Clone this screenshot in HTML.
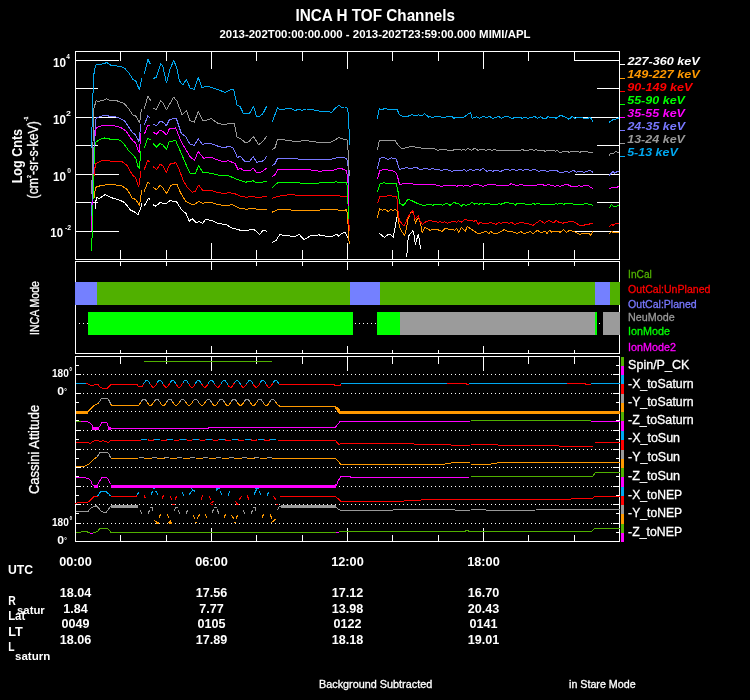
<!DOCTYPE html>
<html><head><meta charset="utf-8"><title>INCA H TOF Channels</title>
<style>html,body{margin:0;padding:0;background:#000;width:750px;height:700px;overflow:hidden}svg{display:block;will-change:transform}</style>
</head><body>
<svg width="750" height="700" viewBox="0 0 750 700" font-family='"Liberation Sans", Arial, Helvetica, sans-serif'><rect width="750" height="700" fill="#000"/><text x="295.5" y="20.8" font-size="16" fill="#fff" font-weight="bold" font-style="normal" text-anchor="start" textLength="159.5" lengthAdjust="spacingAndGlyphs" >INCA H TOF Channels</text>
<text x="219.5" y="38.2" font-size="11.5" fill="#fff" font-weight="bold" font-style="normal" text-anchor="start" textLength="311" lengthAdjust="spacingAndGlyphs" >2013-202T00:00:00.000 - 2013-202T23:59:00.000 MIMI/APL</text>
<g shape-rendering="crispEdges">
<rect x="75.5" y="51.5" width="544" height="208" fill="none" stroke="#fff" stroke-width="1"/>
<line x1="120.5" y1="51.5" x2="120.5" y2="61" stroke="#fff" stroke-width="1"/>
<line x1="120.5" y1="259.5" x2="120.5" y2="250" stroke="#fff" stroke-width="1"/>
<line x1="166.5" y1="51.5" x2="166.5" y2="61" stroke="#fff" stroke-width="1"/>
<line x1="166.5" y1="259.5" x2="166.5" y2="250" stroke="#fff" stroke-width="1"/>
<line x1="211.5" y1="51.5" x2="211.5" y2="68.5" stroke="#fff" stroke-width="1"/>
<line x1="211.5" y1="259.5" x2="211.5" y2="242.5" stroke="#fff" stroke-width="1"/>
<line x1="256.5" y1="51.5" x2="256.5" y2="61" stroke="#fff" stroke-width="1"/>
<line x1="256.5" y1="259.5" x2="256.5" y2="250" stroke="#fff" stroke-width="1"/>
<line x1="302.5" y1="51.5" x2="302.5" y2="61" stroke="#fff" stroke-width="1"/>
<line x1="302.5" y1="259.5" x2="302.5" y2="250" stroke="#fff" stroke-width="1"/>
<line x1="347.5" y1="51.5" x2="347.5" y2="68.5" stroke="#fff" stroke-width="1"/>
<line x1="347.5" y1="259.5" x2="347.5" y2="242.5" stroke="#fff" stroke-width="1"/>
<line x1="392.5" y1="51.5" x2="392.5" y2="61" stroke="#fff" stroke-width="1"/>
<line x1="392.5" y1="259.5" x2="392.5" y2="250" stroke="#fff" stroke-width="1"/>
<line x1="438.5" y1="51.5" x2="438.5" y2="61" stroke="#fff" stroke-width="1"/>
<line x1="438.5" y1="259.5" x2="438.5" y2="250" stroke="#fff" stroke-width="1"/>
<line x1="483.5" y1="51.5" x2="483.5" y2="68.5" stroke="#fff" stroke-width="1"/>
<line x1="483.5" y1="259.5" x2="483.5" y2="242.5" stroke="#fff" stroke-width="1"/>
<line x1="528.5" y1="51.5" x2="528.5" y2="61" stroke="#fff" stroke-width="1"/>
<line x1="528.5" y1="259.5" x2="528.5" y2="250" stroke="#fff" stroke-width="1"/>
<line x1="574.5" y1="51.5" x2="574.5" y2="61" stroke="#fff" stroke-width="1"/>
<line x1="574.5" y1="259.5" x2="574.5" y2="250" stroke="#fff" stroke-width="1"/>
<line x1="75.5" y1="60.5" x2="119" y2="60.5" stroke="#fff" stroke-width="1"/>
<line x1="619.5" y1="60.5" x2="574.5" y2="60.5" stroke="#fff" stroke-width="1"/>
<line x1="75.5" y1="117.5" x2="119" y2="117.5" stroke="#fff" stroke-width="1"/>
<line x1="619.5" y1="117.5" x2="574.5" y2="117.5" stroke="#fff" stroke-width="1"/>
<line x1="75.5" y1="174.5" x2="119" y2="174.5" stroke="#fff" stroke-width="1"/>
<line x1="619.5" y1="174.5" x2="574.5" y2="174.5" stroke="#fff" stroke-width="1"/>
<line x1="75.5" y1="231.5" x2="119" y2="231.5" stroke="#fff" stroke-width="1"/>
<line x1="619.5" y1="231.5" x2="574.5" y2="231.5" stroke="#fff" stroke-width="1"/>
<line x1="75.5" y1="88.5" x2="97.5" y2="88.5" stroke="#fff" stroke-width="1"/>
<line x1="619.5" y1="88.5" x2="597" y2="88.5" stroke="#fff" stroke-width="1"/>
<line x1="75.5" y1="145.5" x2="97.5" y2="145.5" stroke="#fff" stroke-width="1"/>
<line x1="619.5" y1="145.5" x2="597" y2="145.5" stroke="#fff" stroke-width="1"/>
<line x1="75.5" y1="202.5" x2="97.5" y2="202.5" stroke="#fff" stroke-width="1"/>
<line x1="619.5" y1="202.5" x2="597" y2="202.5" stroke="#fff" stroke-width="1"/>
<line x1="619.5" y1="64.5" x2="625" y2="64.5" stroke="#FFFFFF" stroke-width="1"/>
<line x1="619.5" y1="78.5" x2="625" y2="78.5" stroke="#FF9900" stroke-width="1"/>
<line x1="619.5" y1="91.5" x2="625" y2="91.5" stroke="#FF0000" stroke-width="1"/>
<line x1="619.5" y1="104.5" x2="625" y2="104.5" stroke="#00FF00" stroke-width="1"/>
<line x1="619.5" y1="117.5" x2="625" y2="117.5" stroke="#FF00FF" stroke-width="1"/>
<line x1="619.5" y1="130.5" x2="625" y2="130.5" stroke="#7878FF" stroke-width="1"/>
<line x1="619.5" y1="143.5" x2="625" y2="143.5" stroke="#999999" stroke-width="1"/>
<line x1="619.5" y1="156.5" x2="625" y2="156.5" stroke="#00A8F0" stroke-width="1"/>
</g>
<g shape-rendering="crispEdges" stroke-linejoin="round">
<polyline points="95,209.5 95.5,203 96.7,197.2 99,198.7 105,194.7 112.5,198 120,200.2 124.5,202.5 130.5,210 135,212.2 138,215.2 141,207 141.7,203.2" stroke="#FFFFFF" stroke-width="1" fill="none" />
<polyline points="144,206.2 148.5,198.3 150,199.5" stroke="#FFFFFF" stroke-width="1" fill="none" />
<polyline points="153,204.7 156,206.2 160,202.5 166,204 169.7,200.7 176.5,201.7 181.7,210 186.2,213.7 189.2,221.2 192.2,218.7 196,222.5 199,221.7 202.7,223.5 205.7,219.3 211.7,220.5 218.5,223.5 226,224.5 232,228 243.2,231 247,230.2 254,229.5 259.8,234.4 263.1,230.3 266.7,231.1" stroke="#FFFFFF" stroke-width="1" fill="none" />
<polyline points="272.1,242.6 276.2,240.2 279.5,234.9 286,235.2 294.3,236.9 299.2,234.4 304.1,239.8 310.7,235.6 318.9,234.9 330.4,236.9 337,234.4 338.1,236.2 342.1,233.4 345.2,232.3 347.6,237.5" stroke="#FFFFFF" stroke-width="1" fill="none" />
<polyline points="379,233.2 384.6,237.5 388,234.4 390.6,234.7 393.3,237.3 394.8,229.1 395.7,223.1 397.2,216.5" stroke="#FFFFFF" stroke-width="1" fill="none" />
<polyline points="406.4,257.4 407.3,251.4 407.7,242 408.6,236 412.8,230.8 413.7,232.6 415.4,244.6 416.7,239.4 418.4,234.3 420.6,248.8" stroke="#FFFFFF" stroke-width="1" fill="none" />
<polyline points="94.6,198 95.2,188.2 96.7,186.7 102.7,185.2 111,184.5 121.5,185.5 127.5,189.7 132,198 135.7,199.5 139.5,205.5 141.7,190.5" stroke="#FF9900" stroke-width="1" fill="none" />
<polyline points="144,192 147.7,182.2 150,183.7" stroke="#FF9900" stroke-width="1" fill="none" />
<polyline points="153,187.5 156.7,189.7 160,185.2 163,188.2 166.5,193.5 170.5,186 173.5,184.2 177.2,184.8 180.2,192 185.5,201 191.5,204.3 195.2,204 198.7,201.3 202,203.2 211,202.5 217,204.3 226,205.8 232,204.7 239.5,208.2 246.2,209.2 253.2,208.6 260,209.5 266.7,209.3" stroke="#FF9900" stroke-width="1" fill="none" />
<polyline points="272.1,212.2 277.8,209.8 310.7,210.3 335,209.5 341.3,210.7 346.8,209.8 347.6,217.3 349.2,244" stroke="#FF9900" stroke-width="1" fill="none" />
<polyline points="377.3,218.4 379.4,209 382.5,210.2 385,209.5 388.4,211.6 390.6,209.3 392.7,210.5 395.3,209.3 397.2,211.1 398.3,220.6 399.6,227.4 401.7,231.7 404.7,235.1 406.4,228.3 408.1,218.9 410.3,213.7 412,211.1 413.7,213.7 415.4,223.1 416.7,219.7 418.8,217.6 420.6,224.4 422.3,233 424.8,227.2 430,230.3 432.7,229.4 436,229 439.3,230.3 442,231.4 445.3,228.3 449.3,229.4 451.3,229.4 454.7,230.3 456.7,228.3 458.7,232.3 461.3,227.3 465.3,231.4 467.3,226.3 470,228.3 474,231 477.3,233.4 480.7,233 483.3,232.3 486.7,231.4 488.7,233.7 490.7,231.4 494,233.7 498,233 500.7,231.7 504,229.7 506.7,231 511.3,231 513.3,232.3 517.3,233.4 520.7,231.4 523.3,233.4 525,233.7 527.7,232.3 531,231.7 533,234.3 534.3,232.3 537.7,230.3 541,233 545,231 547,233.4 549.7,230.3 551.7,232.1 554.3,231.3 557,231 560.3,232.3 563.7,229.4 566.3,232.3 569.7,230.3 573,231.3 575.7,232.1 579.7,234.3 582.3,233.7 583.7,233 587.7,233.7 589,233.7 590.6,235.3 592.3,232.1 593,231" stroke="#FF9900" stroke-width="1" fill="none" />
<polyline points="609.3,233.7 611.4,231.3 613,232.3 619,232.1" stroke="#FF9900" stroke-width="1" fill="none" />
<polyline points="94,176 94.5,169.5 96,163.5 102.7,160.2 111.7,161.2 121.5,161.2 126.7,165 132.7,175.5 135.7,177.7 138.7,186.7 141,171" stroke="#FF0000" stroke-width="1" fill="none" />
<polyline points="144,170.2 147.7,160.5 150,162" stroke="#FF0000" stroke-width="1" fill="none" />
<polyline points="153,166.5 156.7,169.5 160,164.2 163,165.7 166.3,172.5 169.7,164.2 175.7,162.7 178.7,168 183.2,180.7 187,186.7 192.2,192.3 195.2,191.2 198.7,185.2 202.7,190.5 208,190.2 211.7,190.5 217.7,192.5 224.5,193.5 229,192.5 235,193.8 241,196.5 246.2,197.2 251.6,196.6 258.1,197.5 266.7,196.3" stroke="#FF0000" stroke-width="1" fill="none" />
<polyline points="272.1,198.3 277.8,196.3 290.2,194.5 302.5,195.8 327.1,195.5 335,195.6 341.3,196.1 347.6,196.6 348.4,204.7 349.2,231" stroke="#FF0000" stroke-width="1" fill="none" />
<polyline points="377.3,203.4 378.6,200.4 379.8,196.9 390,195.6 396.3,196.9 397.4,200 398.3,215.9 400,221.4 403.8,226.1 406,222.3 407.7,217.1 412.8,210.3 415,218.9 418.4,215.4 419.7,220.6 422.3,224.4 425.7,221.9 430,220.3 432.7,221.3 436,221.7 438,222.3 440,221.7 442,222.6 444.7,221.7 447.3,223.4 450,222.3 454.7,221.3 456.7,222.3 458.7,220.7 461.3,222.3 464.7,219.4 468.7,220.3 471.3,220.3 474,221.3 476,220.3 478,224.3 480,222.6 483.3,223.4 488.7,223.4 490,222.3 493.3,223.4 496,224.3 499.3,222.3 500.7,223.4 503.3,222.3 506.7,222.3 508.7,223.4 511.3,222.3 514.7,224.3 518,223.4 522,222.3 525,223.3 529,223.9 533,225.4 536.3,223 540.3,220.3 544.3,223.3 549,220.3 552.3,222.3 554.3,222.3 556.3,220.3 559,222.3 563,223.3 565,222.3 567.7,222.3 569,221.4 572.3,221.4 575,222.3 579.7,225.4 583.7,225.4 585.7,224.3 589,224.3 590.3,223.3 593,223.3" stroke="#FF0000" stroke-width="1" fill="none" />
<polyline points="609.3,226.6 611.7,224.3 613,225.4 615.7,223.3 619,223.3" stroke="#FF0000" stroke-width="1" fill="none" />
<polyline points="91.7,250.6 93.5,180 94.6,146 96.1,142.1 97.9,140.7 102.1,138.6 105,137.9 110.7,139.3 115,139.6 117.9,139.3 120.7,140.7 124.3,144.3 128.6,150.7 132.7,154.5 135.7,158.2 138,166.5 139.5,168 140.7,151.5" stroke="#00FF00" stroke-width="1" fill="none" />
<polyline points="144.3,147.9 147.9,137.9 150.4,140" stroke="#00FF00" stroke-width="1" fill="none" />
<polyline points="153.3,143.6 156.4,147.1 160,143.6 162.9,145 166.4,149.3 169.3,141.4 175.7,140.7 181.4,153.6 186.2,165 190,173.2 195.2,174 198.7,165.3 202.7,172.5 211,173.2 220,175.5 228.2,175.5 235,178.5 241,180.7 245.5,182.2 253.2,180.7 256.5,183 266.7,181.4" stroke="#00FF00" stroke-width="1" fill="none" />
<polyline points="272.1,187.6 277.8,182.7 294.3,182.4 309,184 318.9,183 337,181.9 340.5,183 346.8,182.4 347.6,190.6 348.5,219" stroke="#00FF00" stroke-width="1" fill="none" />
<polyline points="377.5,192.2 379.8,184 383.7,182.7 388.5,184 396.3,183.5 397.9,190.6 399.5,203.2 403.4,205.5 408.1,199.2 412,200.8 416.8,203.2 423,205.5 429.3,204.4 430,204.3 432.7,205.3 435.3,204.3 440.7,204.3 442.7,205.3 446.7,203.3 450,205.3 454,202.3 456,203.3 458,203.3 461.3,206.3 463.3,204.3 466,205.3 469.3,204.3 472.4,202.3 474.7,204.3 476.7,203.3 478.7,204.3 481.3,203.3 483.3,204.3 487.3,203.3 491.3,204.3 497.3,204.3 498.7,203.3 500.7,204.3 503.3,203.3 507.3,202.3 510,203.3 513.3,203.3 515.3,205.3 517.3,203.3 524.7,203.3 525,204.3 531.7,204.3 533,203.3 535,204.3 537.7,203.3 541,204.3 554.3,204.3 555.9,203.3 557.7,204.3 559.7,203.3 561.7,203.3 563.7,204.3 566.3,203.3 572.3,203.3 573.7,204.3 583.7,204.3 585,203.3 587,203.3 588.3,204.3 590.3,204.3 593,205.7" stroke="#00FF00" stroke-width="1" fill="none" />
<polyline points="609.3,208.3 611.4,204.3 613,206.3 616.3,206.3 619,205.3" stroke="#00FF00" stroke-width="1" fill="none" />
<polyline points="91.2,231 93.7,152 94.5,140 96.1,127.9 97.9,127.1 102.1,125.7 106.4,125.3 112.1,125.7 117.9,126.4 121.4,127.9 125.7,130.7 130,137.1 132.9,140.7 135.7,142.9 137.9,150 139.3,152.1 141,132.9" stroke="#FF00FF" stroke-width="1" fill="none" />
<polyline points="144.3,134.3 147.9,125 150.4,126.4" stroke="#FF00FF" stroke-width="1" fill="none" />
<polyline points="153.3,132.1 156.4,134.3 160,130 162.9,131.4 166.4,135 169.3,129 175.7,127.9 181.4,142.1 186.2,150 190,156.7 194.5,160.5 198.2,151.5 203.5,158.2 211,157.2 217,159.7 224.5,162 228.2,160.5 235,163.5 238,169.5 240.2,168 244,171 249.9,170.9 253.2,168.2 256.5,172.5 261.4,172 266.7,168.2" stroke="#FF00FF" stroke-width="1" fill="none" />
<polyline points="272.1,176.5 275.4,174.5 277.8,169.6 287.7,169.6 294.3,169.9 310.7,170 319.7,171.2 333.7,170 335,169.4 338.6,168.7 341.3,168.6 346,170.2 347.9,178 348.6,205.8" stroke="#FF00FF" stroke-width="1" fill="none" />
<polyline points="377.5,179.3 379.8,170.5 385.3,169.4 394.7,171.4 397.1,174.9 399.5,184.3 405.8,183.5 416.8,184.3 430,184.6 434.7,184.6 438,185.7 442,186.3 444.7,185.4 454.7,185.4 456.7,186.3 460.7,185 463.3,186.1 467.3,185 470,186.3 474,184.6 478,184.6 480.7,185.7 483.3,186.3 488.7,184.6 495.3,184.6 496.7,185.4 508.7,185.4 511.3,183.4 513.3,184.6 516.7,185.4 522,184.6 524,185.4 525,185.4 536.3,185.4 538.3,184.3 546.3,185.4 549,184.3 551.7,185.7 555.7,186.3 557.7,185.4 559.7,186.3 563,185.4 567,184.3 571,186.3 577,186.3 579,185.4 581,186.3 587.7,185.4 590.3,187 593,188.6" stroke="#FF00FF" stroke-width="1" fill="none" />
<polyline points="609.3,188.6 613,187.3 617,187.3 619,186.3" stroke="#FF00FF" stroke-width="1" fill="none" />
<polyline points="91.5,216 93.5,160 94.5,135 96.1,117.9 98.6,117.1 101.4,116.1 105.7,115.7 112.1,116.4 116.4,117.1 120.7,118.6 125,121.4 129.3,127.9 132.1,132.1 135,134.3 137.9,139.3 139,141.4 141,123.6" stroke="#7878FF" stroke-width="1" fill="none" />
<polyline points="144.3,125 147.9,115.7 150.4,118.6" stroke="#7878FF" stroke-width="1" fill="none" />
<polyline points="153.3,124.3 156.4,125.7 160,121.4 162.9,122.1 166.4,125.7 169.3,120 172.9,118.6 176.4,118.6 181.4,133.6 185.7,136.4 190,144.3 194.3,145.3 198.3,138.6 202.1,144.3 207.1,143.6 211.4,143.9 218.6,146.4 224.3,147.9 228.6,146.1 232.9,147.9 235.7,153.6 237.2,157.5 240.2,156.3 245.5,162 249.9,161.3 253.2,156.4 256.5,162.2 261.4,161.7 264.7,159.7 266.7,156.1" stroke="#7878FF" stroke-width="1" fill="none" />
<polyline points="272.1,165.5 274.9,163.8 277.5,158.4 286,158.9 294.3,158.9 310.7,159.4 327.1,160 335,158.4 337,157.2 341.3,157.3 346.8,158.4 348.4,168.6 349,185" stroke="#7878FF" stroke-width="1" fill="none" />
<polyline points="377.5,168.6 379.8,158.4 383.7,157.3 387.7,159.5 391.6,157.9 396.3,159.2 399.5,169.4 405.8,167.8 412,168.3 416,167 419.9,169.4 426.2,168.6 430,169.7 432.7,168.3 436,169.9 438.7,169.4 440.7,170.3 446.7,169.4 452,171.3 456,170.3 462,170.3 464,169.4 466.7,171.3 470,169.7 474,170.3 477.3,169.4 480,170.3 483.3,168.3 486.7,171.3 490,170.3 492.7,171.3 495.3,170.3 500.7,171.3 506,169.4 510,170.3 512.7,169.4 516.7,170.3 520,169.4 523.3,170.3 525,169.4 530.3,170.3 535,169.4 538.3,171.4 543.7,170.3 547.7,171.4 551,170.3 556.3,170.3 559.7,172.3 563.7,172.3 565,171.4 569.7,172.3 573.7,170.3 576.3,172.3 579,171.4 581,171.4 583.7,172.3 590.3,170.3 593,172.3" stroke="#7878FF" stroke-width="1" fill="none" />
<polyline points="609.3,175.4 613,171.4 615,173.3 617,171.4 619,171" stroke="#7878FF" stroke-width="1" fill="none" />
<polyline points="91.3,194 92.5,170 93.6,109.3 96.1,100.7 97.9,101.4 103.6,100.4 106.4,98.6 110,100.4 115.7,100.4 120.7,102.1 124.3,103.6 128.6,108.6 132.9,115 136.4,116.4 139.6,122.9 141.4,109.3" stroke="#999999" stroke-width="1" fill="none" />
<polyline points="144.3,108.6 147.9,96.4 150.7,100.4" stroke="#999999" stroke-width="1" fill="none" />
<polyline points="153.3,108.6 156.4,109.3 160.7,100.7 162.9,102.9 166.4,110 170,103.6 173.6,97.1 177.1,101.4 182.1,115 186.4,110.7 190,120.7 194.3,122.1 198.3,111.4 202.9,121 207.1,120 211.4,118.6 217.1,122.9 224.3,125 227.9,123.6 234.3,123.6 237.1,137.1 240.7,138.6 245.7,142.9 249.3,141.4 253.3,136.4 258.6,144.7 262.9,141.4 266.7,136.1" stroke="#999999" stroke-width="1" fill="none" />
<polyline points="272.1,149.6 275,147.6 277.6,139.6 285,140 295,141.4 306.4,140.7 316.4,142.1 330.7,142.1 335,140 338.6,137.6 341.7,138.8 347,140 348.5,155 349.2,176" stroke="#999999" stroke-width="1" fill="none" />
<polyline points="377.3,150.1 379.2,140.7 395,140.3 398.7,146 401.7,149 411.5,146.3 419,147.8 428,148.7 430,148.3 434,148.3 437.3,150.3 440.7,149.7 444.7,149.3 448,150.3 452.7,150.3 455.3,149.3 459.3,149.3 461.3,150.3 464,149.3 465.3,150.3 468,148.3 471.3,150.3 474.7,148.3 478,150.3 480.7,149.3 484,149.7 486,150.3 488.7,149.3 492,150.3 495.3,149.3 496.7,150.3 520.7,150.3 522,149.3 524,150.3 525,150.3 527.7,150.3 531,149.4 534.3,150.3 535.7,149.4 538.3,151 543.7,150.3 545,151.4 547,150.3 553.7,150.3 555.7,151.4 557,150.3 559,152.3 567.7,151.4 569,152.3 572.3,151.4 577.7,151.4 579.7,152.3 582.3,151.4 585.7,151.4 589,152.3 593,152.3" stroke="#999999" stroke-width="1" fill="none" />
<polyline points="609,155.7 611,153 613,153.7 615.7,151.4 617.7,152.3 619,152.3" stroke="#999999" stroke-width="1" fill="none" />
<polyline points="91.4,147.9 93.3,83.6 94.3,69.3 96.4,64.3 103.6,63.9 106.7,62.4 111.9,66.1 114.3,65.3 117.9,66.4 121.4,66.7 125,68.6 129.3,73.6 132.9,79.3 136.1,81.4 139.3,90 141.9,77.9" stroke="#00A8F0" stroke-width="1" fill="none" />
<polyline points="144.3,73.6 147.9,59.3 150.4,64.3" stroke="#00A8F0" stroke-width="1" fill="none" />
<polyline points="153.3,78.6 156.4,77.1 160.7,63.6 162.9,66.4 166.4,82.9 170,69.3 173.6,60.7 176.4,66.4 179.3,80.7 182.9,85 186.4,79.3 190,87.9 194.3,89.3 198.3,77.6 202.1,87.9 205.7,86.4 209.3,86.7 217.1,89.3 225,92.4 230,90 233.6,89.3 237.1,105 240,106.4 243.6,113.9 247.1,113.6 250,112.9 253.6,106.4 256.4,116.1 259.3,116.4 262.9,113.6 266.7,106.1" stroke="#00A8F0" stroke-width="1" fill="none" />
<polyline points="272.1,122.1 277.6,107.6 279.3,109.3 285,109 290.7,108.3 295,110.4 299.3,109.3 302.1,110.4 306.4,109 312.1,109.3 315,110.4 322.1,111.4 327.9,111 331.4,112.9 333.6,110 338.6,105.3 341.4,107.1 344.7,107 347.7,108.5 348.5,117.5 349.7,144.5" stroke="#00A8F0" stroke-width="1" fill="none" />
<polyline points="377.3,119.3 379.2,108.8 380,109.7 386,108.5 389,110 397.2,109.7 399.5,114.8 401.7,116 408.5,116 412.2,114.5 415.2,116 418.2,114.8 421.7,116 424.7,113.7 428.7,117.2 430,116.3 432,117.7 435.3,116.7 440.7,116.7 442,117.7 448,116.7 452,116.7 454,118.3 455.3,117.4 463.3,117.4 466,115.7 470.7,112.3 472,118.3 474.7,117.4 476.7,116.7 479.3,118.3 482.7,116.7 484.7,116.7 486.7,117.7 489.3,116.3 492.7,118.3 495.3,117.7 498.7,116.3 501.3,118.3 504.7,116.7 508,116.3 510,117.7 512.7,118.3 515.3,117.4 520.7,117.4 522,118.3 524.7,117.4 525,117.4 528.3,118.3 531.7,117.4 535,116.6 537.7,118.3 540.3,116.6 543,118.3 546.3,118.3 547.7,116.6 550.3,117.4 553.7,117.4 556.3,118.3 558.3,116.6 561,115.3 563.7,116.6 566.3,117.4 569,119.3 572.3,116.3 575,118.3 577.7,117.4 581,117.4 583.7,118.3 587.7,118.3 590.3,117.4 591.7,119.3 593,121.7" stroke="#00A8F0" stroke-width="1" fill="none" />
<polyline points="609,122.3 613,119.7 617,118.7 619,117.7" stroke="#00A8F0" stroke-width="1" fill="none" />
</g>
<text x="627.45" y="64.8" font-size="11.5" fill="#FFFFFF" font-weight="bold" font-style="italic" text-anchor="start" textLength="72.33" lengthAdjust="spacingAndGlyphs" >227-360 keV</text>
<text x="627.2" y="77.82" font-size="11.5" fill="#FF9900" font-weight="bold" font-style="italic" text-anchor="start" textLength="72.58" lengthAdjust="spacingAndGlyphs" >149-227 keV</text>
<text x="627.2" y="90.84" font-size="11.5" fill="#FF0000" font-weight="bold" font-style="italic" text-anchor="start" textLength="65.37" lengthAdjust="spacingAndGlyphs" >90-149 keV</text>
<text x="627.2" y="103.86" font-size="11.5" fill="#00FF00" font-weight="bold" font-style="italic" text-anchor="start" textLength="57.76" lengthAdjust="spacingAndGlyphs" >55-90 keV</text>
<text x="627.2" y="116.88" font-size="11.5" fill="#FF00FF" font-weight="bold" font-style="italic" text-anchor="start" textLength="57.76" lengthAdjust="spacingAndGlyphs" >35-55 keV</text>
<text x="627.45" y="129.9" font-size="11.5" fill="#7878FF" font-weight="bold" font-style="italic" text-anchor="start" textLength="57.52" lengthAdjust="spacingAndGlyphs" >24-35 keV</text>
<text x="627.2" y="142.92" font-size="11.5" fill="#999999" font-weight="bold" font-style="italic" text-anchor="start" textLength="57.76" lengthAdjust="spacingAndGlyphs" >13-24 keV</text>
<text x="627.2" y="155.94" font-size="11.5" fill="#00A8F0" font-weight="bold" font-style="italic" text-anchor="start" textLength="50.61" lengthAdjust="spacingAndGlyphs" >5-13 keV</text>
<text x="53.1" y="66.8" font-size="12.3" fill="#fff" font-weight="bold" font-style="normal" text-anchor="start" textLength="13.03" lengthAdjust="spacingAndGlyphs" >10</text>
<text x="66.3" y="59.2" font-size="6.5" fill="#fff" font-weight="bold" font-style="normal" text-anchor="start" textLength="3.61" lengthAdjust="spacingAndGlyphs" >4</text>
<text x="53.1" y="123.8" font-size="12.3" fill="#fff" font-weight="bold" font-style="normal" text-anchor="start" textLength="13.03" lengthAdjust="spacingAndGlyphs" >10</text>
<text x="66" y="116.2" font-size="6.5" fill="#fff" font-weight="bold" font-style="normal" text-anchor="start" textLength="4.91" lengthAdjust="spacingAndGlyphs" >2</text>
<text x="53.1" y="180.6" font-size="12.3" fill="#fff" font-weight="bold" font-style="normal" text-anchor="start" textLength="13.03" lengthAdjust="spacingAndGlyphs" >10</text>
<text x="67.3" y="173" font-size="6.5" fill="#fff" font-weight="bold" font-style="normal" text-anchor="start" textLength="3.71" lengthAdjust="spacingAndGlyphs" >0</text>
<text x="50.3" y="237.2" font-size="12.3" fill="#fff" font-weight="bold" font-style="normal" text-anchor="start" textLength="12.73" lengthAdjust="spacingAndGlyphs" >10</text>
<text x="64.9" y="229.6" font-size="6.5" fill="#fff" font-weight="bold" font-style="normal" text-anchor="start" textLength="6.09" lengthAdjust="spacingAndGlyphs" >-2</text>
<text transform="translate(21.9,183.3) rotate(-90) scale(0.8096,1)" x="-0" y="0" font-size="15.5" font-weight="bold" fill="#fff">Log Cnts</text>
<text transform="translate(37.6,198.9) rotate(-90) scale(0.86,1)" x="0.6" y="0" font-size="14.3" fill="#fff" stroke="#fff" stroke-width="0.3">(cm<tspan font-size="6" dy="-7">2</tspan><tspan dy="7">-sr-s-keV)</tspan><tspan font-size="6" dy="-9.5">-1</tspan></text>
<g shape-rendering="crispEdges">
<line x1="79" y1="323.5" x2="612" y2="323.5" stroke="#fff" stroke-width="1" stroke-dasharray="1 3"/>
<rect x="75.5" y="261.5" width="544" height="92" fill="none" stroke="#fff" stroke-width="1"/>
<rect x="75" y="282" width="22" height="23" fill="#7480FF"/>
<rect x="97" y="282" width="253" height="23" fill="#50B000"/>
<rect x="350" y="282" width="30" height="23" fill="#7480FF"/>
<rect x="380" y="282" width="215" height="23" fill="#50B000"/>
<rect x="595" y="282" width="15" height="23" fill="#7480FF"/>
<rect x="610" y="282" width="10" height="23" fill="#50B000"/>
<rect x="88" y="312" width="265" height="23" fill="#00FF00"/>
<rect x="377" y="312" width="23" height="23" fill="#00FF00"/>
<rect x="400" y="312" width="195" height="23" fill="#9B9B9B"/>
<rect x="595" y="312" width="2" height="23" fill="#00FF00"/>
<rect x="603" y="312" width="17" height="23" fill="#9B9B9B"/>
<line x1="120.5" y1="261.5" x2="120.5" y2="265.5" stroke="#fff" stroke-width="1"/>
<line x1="120.5" y1="353.5" x2="120.5" y2="349.5" stroke="#fff" stroke-width="1"/>
<line x1="166.5" y1="261.5" x2="166.5" y2="265.5" stroke="#fff" stroke-width="1"/>
<line x1="166.5" y1="353.5" x2="166.5" y2="349.5" stroke="#fff" stroke-width="1"/>
<line x1="211.5" y1="261.5" x2="211.5" y2="269.5" stroke="#fff" stroke-width="1"/>
<line x1="211.5" y1="353.5" x2="211.5" y2="345.5" stroke="#fff" stroke-width="1"/>
<line x1="256.5" y1="261.5" x2="256.5" y2="265.5" stroke="#fff" stroke-width="1"/>
<line x1="256.5" y1="353.5" x2="256.5" y2="349.5" stroke="#fff" stroke-width="1"/>
<line x1="302.5" y1="261.5" x2="302.5" y2="265.5" stroke="#fff" stroke-width="1"/>
<line x1="302.5" y1="353.5" x2="302.5" y2="349.5" stroke="#fff" stroke-width="1"/>
<line x1="347.5" y1="261.5" x2="347.5" y2="269.5" stroke="#fff" stroke-width="1"/>
<line x1="347.5" y1="353.5" x2="347.5" y2="345.5" stroke="#fff" stroke-width="1"/>
<line x1="392.5" y1="261.5" x2="392.5" y2="265.5" stroke="#fff" stroke-width="1"/>
<line x1="392.5" y1="353.5" x2="392.5" y2="349.5" stroke="#fff" stroke-width="1"/>
<line x1="438.5" y1="261.5" x2="438.5" y2="265.5" stroke="#fff" stroke-width="1"/>
<line x1="438.5" y1="353.5" x2="438.5" y2="349.5" stroke="#fff" stroke-width="1"/>
<line x1="483.5" y1="261.5" x2="483.5" y2="269.5" stroke="#fff" stroke-width="1"/>
<line x1="483.5" y1="353.5" x2="483.5" y2="345.5" stroke="#fff" stroke-width="1"/>
<line x1="528.5" y1="261.5" x2="528.5" y2="265.5" stroke="#fff" stroke-width="1"/>
<line x1="528.5" y1="353.5" x2="528.5" y2="349.5" stroke="#fff" stroke-width="1"/>
<line x1="574.5" y1="261.5" x2="574.5" y2="265.5" stroke="#fff" stroke-width="1"/>
<line x1="574.5" y1="353.5" x2="574.5" y2="349.5" stroke="#fff" stroke-width="1"/>
</g>
<text x="628.1" y="277.9" font-size="10.8" fill="#50B000" font-weight="normal" font-style="normal" text-anchor="start" textLength="23.8" lengthAdjust="spacingAndGlyphs"  stroke="#50B000" stroke-width="0.3">InCal</text>
<text x="628.1" y="292.6" font-size="10.8" fill="#FF0000" font-weight="normal" font-style="normal" text-anchor="start" textLength="82.33" lengthAdjust="spacingAndGlyphs"  stroke="#FF0000" stroke-width="0.3">OutCal:UnPlaned</text>
<text x="628.1" y="307.6" font-size="10.8" fill="#7878FF" font-weight="normal" font-style="normal" text-anchor="start" textLength="68.59" lengthAdjust="spacingAndGlyphs"  stroke="#7878FF" stroke-width="0.3">OutCal:Planed</text>
<text x="628.1" y="320.7" font-size="10.8" fill="#999999" font-weight="normal" font-style="normal" text-anchor="start" textLength="46.61" lengthAdjust="spacingAndGlyphs"  stroke="#999999" stroke-width="0.3">NeuMode</text>
<text x="628.1" y="335.4" font-size="10.8" fill="#00FF00" font-weight="normal" font-style="normal" text-anchor="start" textLength="41.92" lengthAdjust="spacingAndGlyphs"  stroke="#00FF00" stroke-width="0.3">IonMode</text>
<text x="628.1" y="350.7" font-size="10.8" fill="#FF00FF" font-weight="normal" font-style="normal" text-anchor="start" textLength="47.88" lengthAdjust="spacingAndGlyphs"  stroke="#FF00FF" stroke-width="0.3">IonMode2</text>
<text transform="translate(39.1,335) rotate(-90) scale(0.7878,1)" x="-0" y="0" font-size="13.4" font-weight="normal" fill="#fff" stroke="#fff" stroke-width="0.3">INCA Mode</text>
<g shape-rendering="crispEdges">
<line x1="79" y1="374.5" x2="612" y2="374.5" stroke="#fff" stroke-width="1" stroke-dasharray="1 3"/>
<line x1="79" y1="393.5" x2="612" y2="393.5" stroke="#fff" stroke-width="1" stroke-dasharray="1 3"/>
<line x1="79" y1="411.5" x2="612" y2="411.5" stroke="#fff" stroke-width="1" stroke-dasharray="1 3"/>
<line x1="79" y1="430.5" x2="612" y2="430.5" stroke="#fff" stroke-width="1" stroke-dasharray="1 3"/>
<line x1="79" y1="449.5" x2="612" y2="449.5" stroke="#fff" stroke-width="1" stroke-dasharray="1 3"/>
<line x1="79" y1="467.5" x2="612" y2="467.5" stroke="#fff" stroke-width="1" stroke-dasharray="1 3"/>
<line x1="79" y1="486.5" x2="612" y2="486.5" stroke="#fff" stroke-width="1" stroke-dasharray="1 3"/>
<line x1="79" y1="504.5" x2="612" y2="504.5" stroke="#fff" stroke-width="1" stroke-dasharray="1 3"/>
<line x1="79" y1="523.5" x2="612" y2="523.5" stroke="#fff" stroke-width="1" stroke-dasharray="1 3"/>
<rect x="75.5" y="356.5" width="544" height="185" fill="none" stroke="#fff" stroke-width="1"/>
<line x1="120.5" y1="356.5" x2="120.5" y2="363.5" stroke="#fff" stroke-width="1"/>
<line x1="120.5" y1="541.5" x2="120.5" y2="534.5" stroke="#fff" stroke-width="1"/>
<line x1="166.5" y1="356.5" x2="166.5" y2="363.5" stroke="#fff" stroke-width="1"/>
<line x1="166.5" y1="541.5" x2="166.5" y2="534.5" stroke="#fff" stroke-width="1"/>
<line x1="211.5" y1="356.5" x2="211.5" y2="370.5" stroke="#fff" stroke-width="1"/>
<line x1="211.5" y1="541.5" x2="211.5" y2="527.5" stroke="#fff" stroke-width="1"/>
<line x1="256.5" y1="356.5" x2="256.5" y2="363.5" stroke="#fff" stroke-width="1"/>
<line x1="256.5" y1="541.5" x2="256.5" y2="534.5" stroke="#fff" stroke-width="1"/>
<line x1="302.5" y1="356.5" x2="302.5" y2="363.5" stroke="#fff" stroke-width="1"/>
<line x1="302.5" y1="541.5" x2="302.5" y2="534.5" stroke="#fff" stroke-width="1"/>
<line x1="347.5" y1="356.5" x2="347.5" y2="370.5" stroke="#fff" stroke-width="1"/>
<line x1="347.5" y1="541.5" x2="347.5" y2="527.5" stroke="#fff" stroke-width="1"/>
<line x1="392.5" y1="356.5" x2="392.5" y2="363.5" stroke="#fff" stroke-width="1"/>
<line x1="392.5" y1="541.5" x2="392.5" y2="534.5" stroke="#fff" stroke-width="1"/>
<line x1="438.5" y1="356.5" x2="438.5" y2="363.5" stroke="#fff" stroke-width="1"/>
<line x1="438.5" y1="541.5" x2="438.5" y2="534.5" stroke="#fff" stroke-width="1"/>
<line x1="483.5" y1="356.5" x2="483.5" y2="370.5" stroke="#fff" stroke-width="1"/>
<line x1="483.5" y1="541.5" x2="483.5" y2="527.5" stroke="#fff" stroke-width="1"/>
<line x1="528.5" y1="356.5" x2="528.5" y2="363.5" stroke="#fff" stroke-width="1"/>
<line x1="528.5" y1="541.5" x2="528.5" y2="534.5" stroke="#fff" stroke-width="1"/>
<line x1="574.5" y1="356.5" x2="574.5" y2="363.5" stroke="#fff" stroke-width="1"/>
<line x1="574.5" y1="541.5" x2="574.5" y2="534.5" stroke="#fff" stroke-width="1"/>
<line x1="75.5" y1="374.5" x2="80.5" y2="374.5" stroke="#fff" stroke-width="1"/>
<line x1="619.5" y1="374.5" x2="612.5" y2="374.5" stroke="#fff" stroke-width="1"/>
<line x1="75.5" y1="393.5" x2="80.5" y2="393.5" stroke="#fff" stroke-width="1"/>
<line x1="619.5" y1="393.5" x2="612.5" y2="393.5" stroke="#fff" stroke-width="1"/>
<line x1="75.5" y1="411.5" x2="80.5" y2="411.5" stroke="#fff" stroke-width="1"/>
<line x1="619.5" y1="411.5" x2="612.5" y2="411.5" stroke="#fff" stroke-width="1"/>
<line x1="75.5" y1="430.5" x2="80.5" y2="430.5" stroke="#fff" stroke-width="1"/>
<line x1="619.5" y1="430.5" x2="612.5" y2="430.5" stroke="#fff" stroke-width="1"/>
<line x1="75.5" y1="449.5" x2="80.5" y2="449.5" stroke="#fff" stroke-width="1"/>
<line x1="619.5" y1="449.5" x2="612.5" y2="449.5" stroke="#fff" stroke-width="1"/>
<line x1="75.5" y1="467.5" x2="80.5" y2="467.5" stroke="#fff" stroke-width="1"/>
<line x1="619.5" y1="467.5" x2="612.5" y2="467.5" stroke="#fff" stroke-width="1"/>
<line x1="75.5" y1="486.5" x2="80.5" y2="486.5" stroke="#fff" stroke-width="1"/>
<line x1="619.5" y1="486.5" x2="612.5" y2="486.5" stroke="#fff" stroke-width="1"/>
<line x1="75.5" y1="504.5" x2="80.5" y2="504.5" stroke="#fff" stroke-width="1"/>
<line x1="619.5" y1="504.5" x2="612.5" y2="504.5" stroke="#fff" stroke-width="1"/>
<line x1="75.5" y1="523.5" x2="80.5" y2="523.5" stroke="#fff" stroke-width="1"/>
<line x1="619.5" y1="523.5" x2="612.5" y2="523.5" stroke="#fff" stroke-width="1"/>
<line x1="75.5" y1="365.5" x2="79" y2="365.5" stroke="#fff" stroke-width="1"/>
<line x1="619.5" y1="365.5" x2="616" y2="365.5" stroke="#fff" stroke-width="1"/>
<line x1="75.5" y1="383.5" x2="79" y2="383.5" stroke="#fff" stroke-width="1"/>
<line x1="619.5" y1="383.5" x2="616" y2="383.5" stroke="#fff" stroke-width="1"/>
<line x1="75.5" y1="402.5" x2="79" y2="402.5" stroke="#fff" stroke-width="1"/>
<line x1="619.5" y1="402.5" x2="616" y2="402.5" stroke="#fff" stroke-width="1"/>
<line x1="75.5" y1="420.5" x2="79" y2="420.5" stroke="#fff" stroke-width="1"/>
<line x1="619.5" y1="420.5" x2="616" y2="420.5" stroke="#fff" stroke-width="1"/>
<line x1="75.5" y1="439.5" x2="79" y2="439.5" stroke="#fff" stroke-width="1"/>
<line x1="619.5" y1="439.5" x2="616" y2="439.5" stroke="#fff" stroke-width="1"/>
<line x1="75.5" y1="458.5" x2="79" y2="458.5" stroke="#fff" stroke-width="1"/>
<line x1="619.5" y1="458.5" x2="616" y2="458.5" stroke="#fff" stroke-width="1"/>
<line x1="75.5" y1="476.5" x2="79" y2="476.5" stroke="#fff" stroke-width="1"/>
<line x1="619.5" y1="476.5" x2="616" y2="476.5" stroke="#fff" stroke-width="1"/>
<line x1="75.5" y1="495.5" x2="79" y2="495.5" stroke="#fff" stroke-width="1"/>
<line x1="619.5" y1="495.5" x2="616" y2="495.5" stroke="#fff" stroke-width="1"/>
<line x1="75.5" y1="513.5" x2="79" y2="513.5" stroke="#fff" stroke-width="1"/>
<line x1="619.5" y1="513.5" x2="616" y2="513.5" stroke="#fff" stroke-width="1"/>
<line x1="75.5" y1="532.5" x2="79" y2="532.5" stroke="#fff" stroke-width="1"/>
<line x1="619.5" y1="532.5" x2="616" y2="532.5" stroke="#fff" stroke-width="1"/>
</g>
<g shape-rendering="crispEdges">
<line x1="144" y1="361.5" x2="272" y2="361.5" stroke="#50B000" stroke-width="1"/>
<line x1="75.5" y1="383.5" x2="86.3" y2="383.5" stroke="#00A8F0" stroke-width="1"/>
<polyline points="86.3,383.5 90.4,385.1 93.7,385.1 95.1,384.2 97.8,384.2 99.9,386.9 102.6,388.2 107.3,388.2 111.4,384.2 136.5,384.2 138.5,386.2 141.2,386.5" stroke="#FF0000" stroke-width="1" fill="none"/>
<polyline points="141.2,387.08 141.7,386.69 142.2,386.13 142.7,385.44 143.2,384.66 143.7,383.82" stroke="#FF0000" stroke-width="1" fill="none"/>
<polyline points="143.7,383.82 144.2,382.99 144.7,382.21 145.2,381.52 145.7,380.98 146.2,380.6 146.7,380.42 147.2,380.44 147.7,380.66 148.2,381.07 148.7,381.65 149.2,382.36 149.7,383.15 150.2,383.99" stroke="#00A8F0" stroke-width="1" fill="none"/>
<polyline points="150.2,383.99 150.7,384.82 151.2,385.59 151.7,386.26 152.2,386.78 152.7,387.14 153.2,387.29 153.7,387.25 154.2,387 154.7,386.56 155.2,385.97 155.7,385.24 156.2,384.44 156.7,383.6" stroke="#FF0000" stroke-width="1" fill="none"/>
<polyline points="156.7,383.6 157.2,382.78 157.7,382.02 158.2,381.36 158.7,380.86 159.2,380.53 159.7,380.4 160.2,380.48 160.7,380.75 161.2,381.21 161.7,381.82 162.2,382.56 162.7,383.37 163.2,384.21" stroke="#00A8F0" stroke-width="1" fill="none"/>
<polyline points="163.2,384.21 163.7,385.03 164.2,385.78 164.7,386.41 165.2,386.89 165.7,387.2 166.2,387.3 166.7,387.2 167.2,386.9 167.7,386.42 168.2,385.79 168.7,385.04 169.2,384.22 169.7,383.38" stroke="#FF0000" stroke-width="1" fill="none"/>
<polyline points="169.7,383.38 170.2,382.57 170.7,381.84 171.2,381.22 171.7,380.76 172.2,380.48 172.7,380.4 173.2,380.53 173.7,380.85 174.2,381.35 174.7,382 175.2,382.76 175.7,383.58 176.2,384.42" stroke="#00A8F0" stroke-width="1" fill="none"/>
<polyline points="176.2,384.42 176.7,385.23 177.2,385.95 177.7,386.55 178.2,386.99 178.7,387.24 179.2,387.29 179.7,387.14 180.2,386.79 180.7,386.27 181.2,385.6 181.7,384.83 182.2,384.01 182.7,383.17" stroke="#FF0000" stroke-width="1" fill="none"/>
<polyline points="182.7,383.17 183.2,382.37 183.7,381.66 184.2,381.08 184.7,380.67 185.2,380.44 185.7,380.41 186.2,380.59 186.7,380.97 187.2,381.51 187.7,382.19 188.2,382.97 188.7,383.8 189.2,384.64" stroke="#00A8F0" stroke-width="1" fill="none"/>
<polyline points="189.2,384.64 189.7,385.43 190.2,386.12 190.7,386.68 191.2,387.07 191.7,387.28 192.2,387.27 192.7,387.07 193.2,386.67 193.7,386.11 194.2,385.41 194.7,384.62 195.2,383.79" stroke="#FF0000" stroke-width="1" fill="none"/>
<polyline points="195.2,383.79 195.7,382.96 196.2,382.18 196.7,381.5 197.2,380.96 197.7,380.59 198.2,380.41 198.7,380.44 199.2,380.67 199.7,381.09 200.2,381.67 200.7,382.39 201.2,383.18 201.7,384.02" stroke="#00A8F0" stroke-width="1" fill="none"/>
<polyline points="201.7,384.02 202.2,384.85 202.7,385.62 203.2,386.28 203.7,386.8 204.2,387.15 204.7,387.29 205.2,387.24 205.7,386.98 206.2,386.54 206.7,385.94 207.2,385.21 207.7,384.41 208.2,383.57" stroke="#FF0000" stroke-width="1" fill="none"/>
<polyline points="208.2,383.57 208.7,382.75 209.2,381.99 209.7,381.34 210.2,380.84 210.7,380.52 211.2,380.4 211.7,380.48 212.2,380.76 212.7,381.23 213.2,381.85 213.7,382.59 214.2,383.4 214.7,384.24" stroke="#00A8F0" stroke-width="1" fill="none"/>
<polyline points="214.7,384.24 215.2,385.06 215.7,385.8 216.2,386.43 216.7,386.91 217.2,387.2 217.7,387.3 218.2,387.19 218.7,386.89 219.2,386.4 219.7,385.76 220.2,385.01 220.7,384.19 221.2,383.35" stroke="#FF0000" stroke-width="1" fill="none"/>
<polyline points="221.2,383.35 221.7,382.54 222.2,381.81 222.7,381.2 223.2,380.74 223.7,380.47 224.2,380.4 224.7,380.54 225.2,380.87 225.7,381.38 226.2,382.03 226.7,382.79 227.2,383.62 227.7,384.46" stroke="#00A8F0" stroke-width="1" fill="none"/>
<polyline points="227.7,384.46 228.2,385.26 228.7,385.98 229.2,386.57 229.7,387 230.2,387.25 230.7,387.29 231.2,387.13 231.7,386.77 232.2,386.25 232.7,385.58 233.2,384.8 233.7,383.97 234.2,383.14" stroke="#FF0000" stroke-width="1" fill="none"/>
<polyline points="234.2,383.14 234.7,382.34 235.2,381.64 235.7,381.06 236.2,380.65 236.7,380.43 237.2,380.42 237.7,380.61 238.2,380.98 238.7,381.53 239.2,382.22 239.7,383 240.2,383.84 240.7,384.67" stroke="#00A8F0" stroke-width="1" fill="none"/>
<polyline points="240.7,384.67 241.2,385.46 241.7,386.15 242.2,386.7 242.7,387.09 243.2,387.28 243.7,387.27 244.2,387.06 244.7,386.65 245.2,386.08 245.7,385.38 246.2,384.59 246.7,383.75" stroke="#FF0000" stroke-width="1" fill="none"/>
<polyline points="246.7,383.75 247.2,382.92 247.7,382.15 248.2,381.47 248.7,380.94 249.2,380.58 249.7,380.41 250.2,380.45 250.7,380.69 251.2,381.11 251.7,381.7 252.2,382.42 252.7,383.22 253.2,384.06" stroke="#00A8F0" stroke-width="1" fill="none"/>
<polyline points="253.2,384.06 253.7,384.88 254.2,385.65 254.7,386.31 255.2,386.82 255.7,387.16 256.2,387.3 256.7,387.23 257.2,386.97 257.7,386.52 258.2,385.91 258.7,385.18 259.2,384.37 259.7,383.53" stroke="#FF0000" stroke-width="1" fill="none"/>
<polyline points="259.7,383.53 260.2,382.71 260.7,381.96 261.2,381.32 261.7,380.83 262.2,380.51 262.7,380.4 263.2,380.49 263.7,380.78 264.2,381.25 264.7,381.88 265.2,382.62 265.7,383.43 266.2,384.27" stroke="#00A8F0" stroke-width="1" fill="none"/>
<polyline points="266.2,384.27 266.7,385.09 267.2,385.83 267.7,386.45 268.2,386.92 268.7,387.21 269.2,387.3 269.7,387.18 270.2,386.87 270.7,386.38 271.2,385.73 271.7,384.98 272.2,384.16 272.7,383.32" stroke="#FF0000" stroke-width="1" fill="none"/>
<polyline points="272.7,383.32 273.2,382.51 273.7,381.78 274.2,381.17 274.7,380.73 275.2,380.47 275.7,380.4 276.2,380.55 276.7,380.89 277.2,381.4 277.7,382.06 278.2,382.83 278.7,383.65 279.2,384.49" stroke="#00A8F0" stroke-width="1" fill="none"/>
<polyline points="279.2,384.49 279.7,385.29" stroke="#FF0000" stroke-width="1" fill="none"/>
<polyline points="280,384.2 334,384.2 335,385.5 340,385.5 341.4,383.5" stroke="#FF0000" stroke-width="1" fill="none"/>
<line x1="341.4" y1="383.5" x2="447" y2="383.5" stroke="#00A8F0" stroke-width="1"/>
<polyline points="447,383.5 466,383.5 466,384.5 469,384.5" stroke="#FF0000" stroke-width="1" fill="none"/>
<line x1="469" y1="383.5" x2="567" y2="383.5" stroke="#00A8F0" stroke-width="1"/>
<polyline points="567,383.5 585.7,383.5 585.7,384.5 591.1,384.5" stroke="#FF0000" stroke-width="1" fill="none"/>
<line x1="591.1" y1="383.5" x2="619.5" y2="383.5" stroke="#00A8F0" stroke-width="1"/>
<line x1="75.5" y1="412.5" x2="87.6" y2="412.5" stroke="#FF9900" stroke-width="3"/>
<polyline points="87.6,412 89,410.6 91.7,407.9 93.7,405.9 98.5,403.2" stroke="#FF9900" stroke-width="1" fill="none"/>
<polyline points="98.5,403.2 101.2,398.7 108,398.7 110.7,403.8" stroke="#999999" stroke-width="1" fill="none"/>
<polyline points="110.7,403.8 111.4,405.5 137.8,405.5" stroke="#FF9900" stroke-width="1" fill="none"/>
<polyline points="137.8,405.48 138.3,405.3 138.8,404.94 139.3,404.42 139.8,403.78 140.3,403.05 140.8,402.27 141.3,401.5" stroke="#FF9900" stroke-width="1" fill="none"/>
<polyline points="141.3,401.5 141.8,400.77 142.3,400.14 142.8,399.63 143.3,399.29 143.8,399.12 144.3,399.13 144.8,399.34 145.3,399.72 145.8,400.26 146.3,400.91 146.8,401.65 147.3,402.43" stroke="#999999" stroke-width="1" fill="none"/>
<polyline points="147.3,402.43 147.8,403.2 148.3,403.91 148.8,404.53 149.3,405.02 149.8,405.35 150.3,405.49 150.8,405.45 151.3,405.22 151.8,404.82 152.3,404.26 152.8,403.59 153.3,402.85 153.8,402.07 154.3,401.31" stroke="#FF9900" stroke-width="1" fill="none"/>
<polyline points="154.3,401.31 154.8,400.6 155.3,399.99 155.8,399.53 156.3,399.22 156.8,399.1 157.3,399.17 157.8,399.42 158.3,399.85 158.8,400.42 159.3,401.1 159.8,401.85 160.3,402.63" stroke="#999999" stroke-width="1" fill="none"/>
<polyline points="160.3,402.63 160.8,403.39 161.3,404.09 161.8,404.67 162.3,405.12 162.8,405.4 163.3,405.5 163.8,405.41 164.3,405.13 164.8,404.68 165.3,404.1 165.8,403.41 166.3,402.65 166.8,401.87" stroke="#FF9900" stroke-width="1" fill="none"/>
<polyline points="166.8,401.87 167.3,401.11 167.8,400.43 168.3,399.86 168.8,399.43 169.3,399.17 169.8,399.1 170.3,399.22 170.8,399.52 171.3,399.98 171.8,400.59 172.3,401.29 172.8,402.05" stroke="#999999" stroke-width="1" fill="none"/>
<polyline points="172.8,402.05 173.3,402.83 173.8,403.58 174.3,404.25 174.8,404.81 175.3,405.21 175.8,405.45 176.3,405.49 176.8,405.35 177.3,405.03 177.8,404.54 178.3,403.93 178.8,403.21 179.3,402.44 179.8,401.67" stroke="#FF9900" stroke-width="1" fill="none"/>
<polyline points="179.8,401.67 180.3,400.93 180.8,400.27 181.3,399.73 181.8,399.35 182.3,399.14 182.8,399.11 183.3,399.28 183.8,399.63 184.3,400.13 184.8,400.76 185.3,401.48 185.8,402.26" stroke="#999999" stroke-width="1" fill="none"/>
<polyline points="185.8,402.26 186.3,403.03 186.8,403.76 187.3,404.41 187.8,404.93 188.3,405.29 188.8,405.48 189.3,405.48 189.8,405.29 190.3,404.92 190.8,404.4 191.3,403.75 191.8,403.02 192.3,402.24 192.8,401.47" stroke="#FF9900" stroke-width="1" fill="none"/>
<polyline points="192.8,401.47 193.3,400.75 193.8,400.12 194.3,399.62 194.8,399.27 195.3,399.11 195.8,399.14 196.3,399.35 196.8,399.74 197.3,400.28 197.8,400.94 198.3,401.68 198.8,402.46" stroke="#999999" stroke-width="1" fill="none"/>
<polyline points="198.8,402.46 199.3,403.23 199.8,403.94 200.3,404.56 200.8,405.04 201.3,405.36 201.8,405.49 202.3,405.44 202.8,405.21 203.3,404.8 203.8,404.24 204.3,403.57 204.8,402.82 205.3,402.04 205.8,401.28" stroke="#FF9900" stroke-width="1" fill="none"/>
<polyline points="205.8,401.28 206.3,400.57 206.8,399.97 207.3,399.51 207.8,399.21 208.3,399.1 208.8,399.18 209.3,399.44 209.8,399.87 210.3,400.44 210.8,401.13 211.3,401.88 211.8,402.66" stroke="#999999" stroke-width="1" fill="none"/>
<polyline points="211.8,402.66 212.3,403.42 212.8,404.11 213.3,404.7 213.8,405.14 214.3,405.41 214.8,405.5 215.3,405.4 215.8,405.12 216.3,404.66 216.8,404.07 217.3,403.38 217.8,402.62 218.3,401.84" stroke="#FF9900" stroke-width="1" fill="none"/>
<polyline points="218.3,401.84 218.8,401.09 219.3,400.41 219.8,399.84 220.3,399.42 220.8,399.17 221.3,399.1 221.8,399.23 222.3,399.53 222.8,400.01 223.3,400.61 223.8,401.32 224.3,402.09" stroke="#999999" stroke-width="1" fill="none"/>
<polyline points="224.3,402.09 224.8,402.86 225.3,403.61 225.8,404.28 226.3,404.82 226.8,405.23 227.3,405.45 227.8,405.49 228.3,405.34 228.8,405.01 229.3,404.52 229.8,403.9 230.3,403.18 230.8,402.41 231.3,401.64" stroke="#FF9900" stroke-width="1" fill="none"/>
<polyline points="231.3,401.64 231.8,400.9 232.3,400.25 232.8,399.71 233.3,399.34 233.8,399.13 234.3,399.12 234.8,399.29 235.3,399.64 235.8,400.15 236.3,400.79 236.8,401.52 237.3,402.29" stroke="#999999" stroke-width="1" fill="none"/>
<polyline points="237.3,402.29 237.8,403.06 238.3,403.79 238.8,404.43 239.3,404.94 239.8,405.3 240.3,405.48 240.8,405.47 241.3,405.27 241.8,404.9 242.3,404.37 242.8,403.72 243.3,402.99 243.8,402.21 244.3,401.44" stroke="#FF9900" stroke-width="1" fill="none"/>
<polyline points="244.3,401.44 244.8,400.72 245.3,400.09 245.8,399.6 246.3,399.26 246.8,399.11 247.3,399.14 247.8,399.37 248.3,399.76 248.8,400.31 249.3,400.97 249.8,401.71 250.3,402.49" stroke="#999999" stroke-width="1" fill="none"/>
<polyline points="250.3,402.49 250.8,403.26 251.3,403.97 251.8,404.58 252.3,405.05 252.8,405.37 253.3,405.5 253.8,405.44 254.3,405.19 254.8,404.78 255.3,404.21 255.8,403.54 256.3,402.79 256.8,402.01 257.3,401.25" stroke="#FF9900" stroke-width="1" fill="none"/>
<polyline points="257.3,401.25 257.8,400.55 258.3,399.95 258.8,399.5 259.3,399.21 259.8,399.1 260.3,399.18 260.8,399.45 261.3,399.89 261.8,400.47 262.3,401.16 262.8,401.91 263.3,402.69" stroke="#999999" stroke-width="1" fill="none"/>
<polyline points="263.3,402.69 263.8,403.45 264.3,404.14 264.8,404.72 265.3,405.15 265.8,405.42 266.3,405.5 266.8,405.39 267.3,405.1 267.8,404.64 268.3,404.05 268.8,403.35 269.3,402.58 269.8,401.81" stroke="#FF9900" stroke-width="1" fill="none"/>
<polyline points="269.8,401.81 270.3,401.06 270.8,400.38 271.3,399.82 271.8,399.4 272.3,399.16 272.8,399.1 273.3,399.24 273.8,399.55 274.3,400.03 274.8,400.64 275.3,401.35 275.8,402.12" stroke="#999999" stroke-width="1" fill="none"/>
<polyline points="275.8,402.12 276.3,402.89 276.8,403.64 277.3,404.3 277.8,404.84 278.3,405.24 278.8,405.46" stroke="#FF9900" stroke-width="1" fill="none"/>
<polyline points="279,405.5 279.5,406.5 336,406.5" stroke="#FF9900" stroke-width="1" fill="none"/>
<polyline points="336,407 340,412.5 619.5,412.5" stroke="#FF9900" stroke-width="3" fill="none"/>
<line x1="75.5" y1="421.5" x2="80.9" y2="421.5" stroke="#50B000" stroke-width="1"/>
<polyline points="80.9,421.5 87,421.5 90,423 92.4,425.6 93,428" stroke="#FF00FF" stroke-width="1" fill="none"/>
<line x1="92.4" y1="428.3" x2="99.2" y2="428.3" stroke="#FF00FF" stroke-width="2.5"/>
<polyline points="99.2,427 101.9,422.8 103.2,422.2 106.6,422.2 108,425.6 109,428" stroke="#FF00FF" stroke-width="1" fill="none"/>
<line x1="108" y1="428.3" x2="111" y2="428.3" stroke="#FF00FF" stroke-width="2.5"/>
<polyline points="111,428.5 208.1,428.5 208.1,427.5 335.3,427.5 340,421.5 470,421.5" stroke="#FF00FF" stroke-width="1" fill="none"/>
<line x1="471" y1="420.5" x2="591.1" y2="420.5" stroke="#50B000" stroke-width="1"/>
<line x1="591.1" y1="421.5" x2="619.5" y2="421.5" stroke="#FF00FF" stroke-width="1"/>
<polyline points="75.5,442.5 87.6,442.5 90.4,443.5 92.4,441.8 95.1,440.2 97.8,440.5 100.5,441.8 102.6,440.9 105.3,441.2 108.7,442.5 110.7,440.5 141,440.5" stroke="#FF0000" stroke-width="1" fill="none"/>
<line x1="141.4" y1="439.5" x2="147.4" y2="439.5" stroke="#00A8F0" stroke-width="1"/>
<polyline points="147.8,439.5 148.8,440.5 153,440.5 154,439.5" stroke="#FF0000" stroke-width="1" fill="none"/>
<line x1="154.3" y1="439.5" x2="160.3" y2="439.5" stroke="#00A8F0" stroke-width="1"/>
<polyline points="160.7,439.5 161.7,440.5 165.9,440.5 166.9,439.5" stroke="#FF0000" stroke-width="1" fill="none"/>
<line x1="167.2" y1="439.5" x2="173.2" y2="439.5" stroke="#00A8F0" stroke-width="1"/>
<polyline points="173.6,439.5 174.6,440.5 178.8,440.5 179.8,439.5" stroke="#FF0000" stroke-width="1" fill="none"/>
<line x1="180.1" y1="439.5" x2="186.1" y2="439.5" stroke="#00A8F0" stroke-width="1"/>
<polyline points="186.5,439.5 187.5,440.5 191.7,440.5 192.7,439.5" stroke="#FF0000" stroke-width="1" fill="none"/>
<line x1="193" y1="439.5" x2="199" y2="439.5" stroke="#00A8F0" stroke-width="1"/>
<polyline points="199.4,439.5 200.4,440.5 204.6,440.5 205.6,439.5" stroke="#FF0000" stroke-width="1" fill="none"/>
<line x1="205.9" y1="439.5" x2="211.9" y2="439.5" stroke="#00A8F0" stroke-width="1"/>
<polyline points="212.3,439.5 213.3,440.5 217.5,440.5 218.5,439.5" stroke="#FF0000" stroke-width="1" fill="none"/>
<line x1="218.8" y1="439.5" x2="224.8" y2="439.5" stroke="#00A8F0" stroke-width="1"/>
<polyline points="225.2,439.5 226.2,440.5 230.4,440.5 231.4,439.5" stroke="#FF0000" stroke-width="1" fill="none"/>
<line x1="231.7" y1="439.5" x2="237.7" y2="439.5" stroke="#00A8F0" stroke-width="1"/>
<polyline points="238.1,439.5 239.1,440.5 243.3,440.5 244.3,439.5" stroke="#FF0000" stroke-width="1" fill="none"/>
<line x1="244.6" y1="439.5" x2="250.6" y2="439.5" stroke="#00A8F0" stroke-width="1"/>
<polyline points="251,439.5 252,440.5 256.2,440.5 257.2,439.5" stroke="#FF0000" stroke-width="1" fill="none"/>
<line x1="257.5" y1="439.5" x2="263.5" y2="439.5" stroke="#00A8F0" stroke-width="1"/>
<polyline points="263.9,439.5 264.9,440.5 269.1,440.5 270.1,439.5" stroke="#FF0000" stroke-width="1" fill="none"/>
<line x1="270.4" y1="439.5" x2="276.4" y2="439.5" stroke="#00A8F0" stroke-width="1"/>
<polyline points="277.6,440.5 335.3,440.5 338.7,444.3 341.4,443.5 414,443.5" stroke="#FF0000" stroke-width="1" fill="none"/>
<line x1="414" y1="444.5" x2="451" y2="444.5" stroke="#FF0000" stroke-width="1"/>
<line x1="451" y1="445.5" x2="470" y2="445.5" stroke="#FF0000" stroke-width="1"/>
<line x1="471" y1="444.5" x2="497.8" y2="444.5" stroke="#FF0000" stroke-width="1"/>
<line x1="497.8" y1="445.5" x2="559.2" y2="445.5" stroke="#FF0000" stroke-width="1"/>
<line x1="559.2" y1="446.5" x2="593.2" y2="446.5" stroke="#FF0000" stroke-width="1"/>
<line x1="594.5" y1="442.5" x2="619.5" y2="442.5" stroke="#FF0000" stroke-width="1"/>
<polyline points="75.5,466.7 84.2,466.7 86.5,465.2 89.5,463.7 91,461.8 94.7,458.5 97,457" stroke="#FF9900" stroke-width="1" fill="none"/>
<polyline points="97,457 98.5,454.7 100,452.5 107.5,452.5 109,454.3 110.8,458.2" stroke="#999999" stroke-width="1" fill="none"/>
<line x1="111.2" y1="458.5" x2="137.5" y2="458.5" stroke="#FF9900" stroke-width="1"/>
<line x1="138.7" y1="457.5" x2="143.7" y2="457.5" stroke="#999999" stroke-width="1"/>
<line x1="144.4" y1="458.5" x2="151.7" y2="458.5" stroke="#FF9900" stroke-width="1"/>
<line x1="151.55" y1="457.5" x2="156.55" y2="457.5" stroke="#999999" stroke-width="1"/>
<line x1="157.25" y1="458.5" x2="164.55" y2="458.5" stroke="#FF9900" stroke-width="1"/>
<line x1="164.4" y1="457.5" x2="169.4" y2="457.5" stroke="#999999" stroke-width="1"/>
<line x1="170.1" y1="458.5" x2="177.4" y2="458.5" stroke="#FF9900" stroke-width="1"/>
<line x1="177.25" y1="457.5" x2="182.25" y2="457.5" stroke="#999999" stroke-width="1"/>
<line x1="182.95" y1="458.5" x2="190.25" y2="458.5" stroke="#FF9900" stroke-width="1"/>
<line x1="190.1" y1="457.5" x2="195.1" y2="457.5" stroke="#999999" stroke-width="1"/>
<line x1="195.8" y1="458.5" x2="203.1" y2="458.5" stroke="#FF9900" stroke-width="1"/>
<line x1="202.95" y1="457.5" x2="207.95" y2="457.5" stroke="#999999" stroke-width="1"/>
<line x1="208.65" y1="458.5" x2="215.95" y2="458.5" stroke="#FF9900" stroke-width="1"/>
<line x1="215.8" y1="457.5" x2="220.8" y2="457.5" stroke="#999999" stroke-width="1"/>
<line x1="221.5" y1="458.5" x2="228.8" y2="458.5" stroke="#FF9900" stroke-width="1"/>
<line x1="228.65" y1="457.5" x2="233.65" y2="457.5" stroke="#999999" stroke-width="1"/>
<line x1="234.35" y1="458.5" x2="241.65" y2="458.5" stroke="#FF9900" stroke-width="1"/>
<line x1="241.5" y1="457.5" x2="246.5" y2="457.5" stroke="#999999" stroke-width="1"/>
<line x1="247.2" y1="458.5" x2="254.5" y2="458.5" stroke="#FF9900" stroke-width="1"/>
<line x1="254.35" y1="457.5" x2="259.35" y2="457.5" stroke="#999999" stroke-width="1"/>
<line x1="260.05" y1="458.5" x2="267.35" y2="458.5" stroke="#FF9900" stroke-width="1"/>
<line x1="267.2" y1="457.5" x2="272.2" y2="457.5" stroke="#999999" stroke-width="1"/>
<line x1="272.9" y1="458.5" x2="280.2" y2="458.5" stroke="#FF9900" stroke-width="1"/>
<polyline points="272,458.5 335.7,458.5 341,464.5 445,464.5" stroke="#FF9900" stroke-width="1" fill="none"/>
<line x1="445" y1="463.5" x2="451" y2="463.5" stroke="#FF9900" stroke-width="1"/>
<line x1="451" y1="462.5" x2="470" y2="462.5" stroke="#FF9900" stroke-width="1"/>
<line x1="471" y1="464.5" x2="491.2" y2="464.5" stroke="#FF9900" stroke-width="1"/>
<line x1="491.2" y1="463.5" x2="497.2" y2="463.5" stroke="#FF9900" stroke-width="1"/>
<line x1="497.2" y1="462.5" x2="619.5" y2="462.5" stroke="#FF9900" stroke-width="1"/>
<polyline points="75.5,477.5 83.5,477.5 88,478.3 91,481 92.2,484.3 94,486" stroke="#FF00FF" stroke-width="1" fill="none"/>
<line x1="93.5" y1="486.2" x2="97.7" y2="486.2" stroke="#FF00FF" stroke-width="3"/>
<polyline points="97.7,485 99.2,481.7 101.5,478 105.2,477.2 107.5,478.3 109.3,481.7 110.5,484.5" stroke="#FF00FF" stroke-width="1" fill="none"/>
<line x1="110.5" y1="486.5" x2="335.7" y2="486.5" stroke="#FF00FF" stroke-width="3"/>
<polyline points="335.7,484 336.5,485 338,481 341,476.5 350,476.5 350,477.5 469.2,477.5" stroke="#FF00FF" stroke-width="1" fill="none"/>
<polyline points="471,476.5 592.7,476.5 595.2,472.5 619.5,472.5" stroke="#50B000" stroke-width="1" fill="none"/>
<polyline points="75.5,503.5 77.5,502.7 88,502 90.2,500.5 94,496.7 97.7,496" stroke="#FF0000" stroke-width="1" fill="none"/>
<polyline points="97.7,496 100,492.2 102.2,491.2 106,491.5 109.3,494.5 110.5,496" stroke="#00A8F0" stroke-width="1" fill="none"/>
<polyline points="110.5,496.5 136,496.5 137,495.5" stroke="#FF0000" stroke-width="1" fill="none"/>
<polyline points="137,495 139,492" stroke="#00A8F0" stroke-width="1" fill="none"/>
<polyline points="279.5,496.5 335.7,496.5 341,501.5 404.2,501.5" stroke="#FF0000" stroke-width="1" fill="none"/>
<line x1="404.2" y1="500.5" x2="421" y2="500.5" stroke="#FF0000" stroke-width="1"/>
<line x1="421" y1="499.5" x2="570.8" y2="499.5" stroke="#FF0000" stroke-width="1"/>
<line x1="570.8" y1="498.5" x2="592.7" y2="498.5" stroke="#FF0000" stroke-width="1"/>
<polyline points="592.7,498.5 594.5,496.5 619.5,496.5" stroke="#FF0000" stroke-width="1" fill="none"/>
<polyline points="75.5,511.5 88,511.5 90.2,508.7 92.5,507.2 96.2,505.7 98.5,508 101.5,511.7 106,512.5 109,508.7 110.5,506.5" stroke="#999999" stroke-width="1" fill="none"/>
<line x1="110.5" y1="506.3" x2="137.5" y2="506.3" stroke="#999999" stroke-width="3"/>
<polyline points="277.7,510.2 278.7,507.2 281,506" stroke="#999999" stroke-width="1" fill="none"/>
<line x1="281" y1="506" x2="335.7" y2="506" stroke="#999999" stroke-width="3"/>
<polyline points="335.7,506.5 338,509.2 341,510.5 392.8,510.5" stroke="#999999" stroke-width="1" fill="none"/>
<line x1="392.8" y1="509.5" x2="455.2" y2="509.5" stroke="#999999" stroke-width="1"/>
<line x1="455.2" y1="510.5" x2="470" y2="510.5" stroke="#999999" stroke-width="1"/>
<line x1="471" y1="509.5" x2="486" y2="509.5" stroke="#999999" stroke-width="1"/>
<line x1="486" y1="510.5" x2="534.7" y2="510.5" stroke="#999999" stroke-width="1"/>
<line x1="535.5" y1="509.5" x2="619.5" y2="509.5" stroke="#999999" stroke-width="1"/>
<line x1="153" y1="488.3" x2="154.5" y2="488.3" stroke="#00A8F0" stroke-width="1.1"/>
<line x1="151" y1="494.5" x2="153" y2="491" stroke="#00A8F0" stroke-width="1.1"/>
<line x1="155.5" y1="491" x2="158" y2="494.5" stroke="#00A8F0" stroke-width="1.1"/>
<line x1="182" y1="492" x2="184" y2="495.5" stroke="#00A8F0" stroke-width="1.1"/>
<line x1="189" y1="494.5" x2="192.5" y2="490.5" stroke="#00A8F0" stroke-width="1.1"/>
<line x1="191" y1="488.3" x2="195" y2="491.5" stroke="#00A8F0" stroke-width="1.1"/>
<line x1="216" y1="488.3" x2="220" y2="488.3" stroke="#00A8F0" stroke-width="1.1"/>
<line x1="216" y1="491" x2="218" y2="488.5" stroke="#00A8F0" stroke-width="1.1"/>
<line x1="220" y1="491" x2="222" y2="494.5" stroke="#00A8F0" stroke-width="1.1"/>
<line x1="228" y1="495.5" x2="230" y2="491" stroke="#00A8F0" stroke-width="1.1"/>
<line x1="254" y1="494.5" x2="257" y2="488.5" stroke="#00A8F0" stroke-width="1.1"/>
<line x1="255" y1="488.3" x2="259" y2="488.3" stroke="#00A8F0" stroke-width="1.1"/>
<line x1="259" y1="491" x2="261" y2="494.5" stroke="#00A8F0" stroke-width="1.1"/>
<line x1="267" y1="495.5" x2="269" y2="492" stroke="#00A8F0" stroke-width="1.1"/>
<line x1="144" y1="495" x2="145.5" y2="498.5" stroke="#FF0000" stroke-width="1.1"/>
<line x1="162" y1="498.5" x2="164" y2="495" stroke="#FF0000" stroke-width="1.1"/>
<line x1="170" y1="496" x2="172" y2="499.5" stroke="#FF0000" stroke-width="1.1"/>
<line x1="175" y1="499.5" x2="177" y2="496" stroke="#FF0000" stroke-width="1.1"/>
<line x1="172" y1="504.5" x2="175" y2="504.5" stroke="#FF0000" stroke-width="1.1"/>
<line x1="201" y1="499.5" x2="203" y2="495" stroke="#FF0000" stroke-width="1.1"/>
<line x1="209" y1="496" x2="211" y2="499.5" stroke="#FF0000" stroke-width="1.1"/>
<line x1="210.5" y1="503.5" x2="214" y2="501" stroke="#FF0000" stroke-width="1.1"/>
<line x1="211" y1="504.3" x2="213" y2="504.3" stroke="#FF0000" stroke-width="1.1"/>
<line x1="239" y1="499.5" x2="242" y2="496" stroke="#FF0000" stroke-width="1.1"/>
<line x1="247" y1="495" x2="249" y2="499.5" stroke="#FF0000" stroke-width="1.1"/>
<line x1="235" y1="501" x2="238" y2="504.5" stroke="#FF0000" stroke-width="1.1"/>
<line x1="236" y1="504.3" x2="239" y2="504.3" stroke="#FF0000" stroke-width="1.1"/>
<line x1="273" y1="496" x2="276" y2="499.5" stroke="#FF0000" stroke-width="1.1"/>
<line x1="276" y1="504.5" x2="278" y2="504.5" stroke="#FF0000" stroke-width="1.1"/>
<line x1="140" y1="510" x2="142" y2="513.5" stroke="#999999" stroke-width="1.1"/>
<line x1="148" y1="513.5" x2="150" y2="510" stroke="#999999" stroke-width="1.1"/>
<line x1="150" y1="507.5" x2="152" y2="507.5" stroke="#999999" stroke-width="1.1"/>
<line x1="152" y1="507.5" x2="153" y2="510.5" stroke="#999999" stroke-width="1.1"/>
<line x1="174" y1="510.5" x2="176" y2="507.5" stroke="#999999" stroke-width="1.1"/>
<line x1="176" y1="507.5" x2="178" y2="507.5" stroke="#999999" stroke-width="1.1"/>
<line x1="178" y1="510" x2="180" y2="513.5" stroke="#999999" stroke-width="1.1"/>
<line x1="186" y1="513.5" x2="188" y2="510" stroke="#999999" stroke-width="1.1"/>
<line x1="214" y1="507.5" x2="217" y2="507.5" stroke="#999999" stroke-width="1.1"/>
<line x1="212" y1="512.5" x2="214" y2="509" stroke="#999999" stroke-width="1.1"/>
<line x1="217" y1="509" x2="219" y2="513.5" stroke="#999999" stroke-width="1.1"/>
<line x1="243" y1="510" x2="245" y2="513.5" stroke="#999999" stroke-width="1.1"/>
<line x1="251" y1="513.5" x2="253" y2="510" stroke="#999999" stroke-width="1.1"/>
<line x1="253" y1="507.5" x2="255" y2="507.5" stroke="#999999" stroke-width="1.1"/>
<line x1="255" y1="507.5" x2="256" y2="510.5" stroke="#999999" stroke-width="1.1"/>
<line x1="159" y1="517.5" x2="161" y2="514" stroke="#FF9900" stroke-width="1.1"/>
<line x1="167" y1="514" x2="169" y2="517.5" stroke="#FF9900" stroke-width="1.1"/>
<line x1="154" y1="520.5" x2="157" y2="522.5" stroke="#FF9900" stroke-width="1.1"/>
<line x1="156" y1="523" x2="159" y2="523" stroke="#FF9900" stroke-width="1.1"/>
<line x1="168" y1="523" x2="171" y2="520.5" stroke="#FF9900" stroke-width="1.1"/>
<line x1="169" y1="523" x2="172" y2="523" stroke="#FF9900" stroke-width="1.1"/>
<line x1="193" y1="515" x2="195" y2="518.5" stroke="#FF9900" stroke-width="1.1"/>
<line x1="197" y1="518.5" x2="200" y2="514" stroke="#FF9900" stroke-width="1.1"/>
<line x1="195" y1="522.5" x2="197" y2="522.5" stroke="#FF9900" stroke-width="1.1"/>
<line x1="205" y1="514" x2="207" y2="517.5" stroke="#FF9900" stroke-width="1.1"/>
<line x1="224" y1="517.5" x2="226" y2="514" stroke="#FF9900" stroke-width="1.1"/>
<line x1="231" y1="515" x2="234" y2="518.5" stroke="#FF9900" stroke-width="1.1"/>
<line x1="236" y1="518.5" x2="238" y2="515" stroke="#FF9900" stroke-width="1.1"/>
<line x1="234" y1="522.5" x2="236" y2="522.5" stroke="#FF9900" stroke-width="1.1"/>
<line x1="262" y1="517.5" x2="264" y2="514" stroke="#FF9900" stroke-width="1.1"/>
<line x1="270" y1="514" x2="272" y2="518.5" stroke="#FF9900" stroke-width="1.1"/>
<line x1="271" y1="523" x2="276" y2="519" stroke="#FF9900" stroke-width="1.1"/>
<polyline points="75.5,532.5 80,532.5 82,531.5 86.5,531.5 88.7,532.5 90,533" stroke="#50B000" stroke-width="1" fill="none"/>
<polyline points="90,533.3 93.2,533.3" stroke="#FF00FF" stroke-width="1" fill="none"/>
<polyline points="93.5,533 95.5,532.5 97.7,531.2 100,528.5 107.5,528.5 111.2,532.5 335.7,532.5" stroke="#50B000" stroke-width="1" fill="none"/>
<line x1="335.7" y1="532.5" x2="339" y2="532.5" stroke="#FF00FF" stroke-width="1"/>
<polyline points="339,531.5 465.7,531.5 465.7,530.5 468.7,530.5 468.7,531.5 591.5,531.5 594.5,528.5 619.5,528.5" stroke="#50B000" stroke-width="1" fill="none"/>
</g>
<g shape-rendering="crispEdges">
<rect x="621" y="357" width="3" height="9" fill="#50B000"/>
<rect x="621" y="366" width="3" height="9" fill="#FF00FF"/>
<rect x="621" y="375" width="3" height="9" fill="#00A8F0"/>
<rect x="621" y="384" width="3" height="10" fill="#FF0000"/>
<rect x="621" y="394" width="3" height="9" fill="#999999"/>
<rect x="621" y="403" width="3" height="9" fill="#FF9900"/>
<rect x="621" y="412" width="3" height="9" fill="#50B000"/>
<rect x="621" y="421" width="3" height="10" fill="#FF00FF"/>
<rect x="621" y="431" width="3" height="9" fill="#00A8F0"/>
<rect x="621" y="440" width="3" height="10" fill="#FF0000"/>
<rect x="621" y="450" width="3" height="9" fill="#999999"/>
<rect x="621" y="459" width="3" height="9" fill="#FF9900"/>
<rect x="621" y="468" width="3" height="9" fill="#50B000"/>
<rect x="621" y="477" width="3" height="10" fill="#FF00FF"/>
<rect x="621" y="487" width="3" height="9" fill="#00A8F0"/>
<rect x="621" y="496" width="3" height="9" fill="#FF0000"/>
<rect x="621" y="505" width="3" height="9" fill="#999999"/>
<rect x="621" y="514" width="3" height="10" fill="#FF9900"/>
<rect x="621" y="524" width="3" height="9" fill="#50B000"/>
<rect x="621" y="533" width="3" height="9" fill="#FF00FF"/>
</g>
<text x="628.1" y="368.6" font-size="12.4" fill="#fff" font-weight="normal" font-style="normal" text-anchor="start" textLength="61.22" lengthAdjust="spacingAndGlyphs"  stroke="#fff" stroke-width="0.3">Spin/P_CK</text>
<text x="628.1" y="387.6" font-size="12.4" fill="#fff" font-weight="normal" font-style="normal" text-anchor="start" textLength="65.52" lengthAdjust="spacingAndGlyphs"  stroke="#fff" stroke-width="0.3">-X_toSaturn</text>
<text x="628.1" y="405.9" font-size="12.4" fill="#fff" font-weight="normal" font-style="normal" text-anchor="start" textLength="65.52" lengthAdjust="spacingAndGlyphs"  stroke="#fff" stroke-width="0.3">-Y_toSaturn</text>
<text x="628.1" y="424.3" font-size="12.4" fill="#fff" font-weight="normal" font-style="normal" text-anchor="start" textLength="65.51" lengthAdjust="spacingAndGlyphs"  stroke="#fff" stroke-width="0.3">-Z_toSaturn</text>
<text x="628.1" y="442.3" font-size="12.4" fill="#fff" font-weight="normal" font-style="normal" text-anchor="start" textLength="51.9" lengthAdjust="spacingAndGlyphs"  stroke="#fff" stroke-width="0.3">-X_toSun</text>
<text x="628.1" y="461.2" font-size="12.4" fill="#fff" font-weight="normal" font-style="normal" text-anchor="start" textLength="51.9" lengthAdjust="spacingAndGlyphs"  stroke="#fff" stroke-width="0.3">-Y_toSun</text>
<text x="628.1" y="479.9" font-size="12.4" fill="#fff" font-weight="normal" font-style="normal" text-anchor="start" textLength="51.88" lengthAdjust="spacingAndGlyphs"  stroke="#fff" stroke-width="0.3">-Z_toSun</text>
<text x="628.1" y="498.5" font-size="12.4" fill="#fff" font-weight="normal" font-style="normal" text-anchor="start" textLength="54.02" lengthAdjust="spacingAndGlyphs"  stroke="#fff" stroke-width="0.3">-X_toNEP</text>
<text x="628.1" y="517.1" font-size="12.4" fill="#fff" font-weight="normal" font-style="normal" text-anchor="start" textLength="54.02" lengthAdjust="spacingAndGlyphs"  stroke="#fff" stroke-width="0.3">-Y_toNEP</text>
<text x="628.1" y="535.7" font-size="12.4" fill="#fff" font-weight="normal" font-style="normal" text-anchor="start" textLength="54" lengthAdjust="spacingAndGlyphs"  stroke="#fff" stroke-width="0.3">-Z_toNEP</text>
<text x="52" y="376.9" font-size="11" fill="#fff" font-weight="bold" font-style="normal" text-anchor="start" textLength="16.79" lengthAdjust="spacingAndGlyphs" >180</text>
<text x="69.2" y="375.2" font-size="10" fill="#fff" font-weight="bold" font-style="normal" text-anchor="start" textLength="3" lengthAdjust="spacingAndGlyphs" >°</text>
<text x="57.2" y="395.2" font-size="10.4" fill="#fff" font-weight="bold" font-style="normal" text-anchor="start" textLength="6.81" lengthAdjust="spacingAndGlyphs" >0</text>
<text x="64.2" y="394.2" font-size="9.5" fill="#fff" font-weight="bold" font-style="normal" text-anchor="start" textLength="2.6" lengthAdjust="spacingAndGlyphs" >°</text>
<text x="52" y="526" font-size="11" fill="#fff" font-weight="bold" font-style="normal" text-anchor="start" textLength="16.79" lengthAdjust="spacingAndGlyphs" >180</text>
<text x="69.4" y="524.2" font-size="10" fill="#fff" font-weight="bold" font-style="normal" text-anchor="start" textLength="2.8" lengthAdjust="spacingAndGlyphs" >°</text>
<text x="57.2" y="544.2" font-size="10.4" fill="#fff" font-weight="bold" font-style="normal" text-anchor="start" textLength="6.81" lengthAdjust="spacingAndGlyphs" >0</text>
<text x="64.2" y="543.2" font-size="9.5" fill="#fff" font-weight="bold" font-style="normal" text-anchor="start" textLength="2.6" lengthAdjust="spacingAndGlyphs" >°</text>
<text transform="translate(38.7,494) rotate(-90) scale(0.8356,1)" x="-0" y="0" font-size="15.5" font-weight="normal" fill="#fff" stroke="#fff" stroke-width="0.3">Cassini Attitude</text>
<text x="59.22" y="565.5" font-size="12" fill="#fff" font-weight="bold" font-style="normal" text-anchor="start" textLength="32.53" lengthAdjust="spacingAndGlyphs" >00:00</text>
<text x="195.22" y="565.5" font-size="12" fill="#fff" font-weight="bold" font-style="normal" text-anchor="start" textLength="32.53" lengthAdjust="spacingAndGlyphs" >06:00</text>
<text x="331.22" y="565.5" font-size="12" fill="#fff" font-weight="bold" font-style="normal" text-anchor="start" textLength="32.53" lengthAdjust="spacingAndGlyphs" >12:00</text>
<text x="467.22" y="565.5" font-size="12" fill="#fff" font-weight="bold" font-style="normal" text-anchor="start" textLength="32.53" lengthAdjust="spacingAndGlyphs" >18:00</text>
<text x="59.72" y="596.9" font-size="12" fill="#fff" font-weight="bold" font-style="normal" text-anchor="start" textLength="31.53" lengthAdjust="spacingAndGlyphs" >18.04</text>
<text x="63.25" y="612.7" font-size="12" fill="#fff" font-weight="bold" font-style="normal" text-anchor="start" textLength="24.52" lengthAdjust="spacingAndGlyphs" >1.84</text>
<text x="61.48" y="628.3" font-size="12" fill="#fff" font-weight="bold" font-style="normal" text-anchor="start" textLength="28.03" lengthAdjust="spacingAndGlyphs" >0049</text>
<text x="59.72" y="643.6" font-size="12" fill="#fff" font-weight="bold" font-style="normal" text-anchor="start" textLength="31.53" lengthAdjust="spacingAndGlyphs" >18.06</text>
<text x="195.72" y="596.9" font-size="12" fill="#fff" font-weight="bold" font-style="normal" text-anchor="start" textLength="31.53" lengthAdjust="spacingAndGlyphs" >17.56</text>
<text x="199.25" y="612.7" font-size="12" fill="#fff" font-weight="bold" font-style="normal" text-anchor="start" textLength="24.52" lengthAdjust="spacingAndGlyphs" >7.77</text>
<text x="197.48" y="628.3" font-size="12" fill="#fff" font-weight="bold" font-style="normal" text-anchor="start" textLength="28.03" lengthAdjust="spacingAndGlyphs" >0105</text>
<text x="195.72" y="643.6" font-size="12" fill="#fff" font-weight="bold" font-style="normal" text-anchor="start" textLength="31.53" lengthAdjust="spacingAndGlyphs" >17.89</text>
<text x="331.72" y="596.9" font-size="12" fill="#fff" font-weight="bold" font-style="normal" text-anchor="start" textLength="31.53" lengthAdjust="spacingAndGlyphs" >17.12</text>
<text x="331.72" y="612.7" font-size="12" fill="#fff" font-weight="bold" font-style="normal" text-anchor="start" textLength="31.53" lengthAdjust="spacingAndGlyphs" >13.98</text>
<text x="333.48" y="628.3" font-size="12" fill="#fff" font-weight="bold" font-style="normal" text-anchor="start" textLength="28.03" lengthAdjust="spacingAndGlyphs" >0122</text>
<text x="331.72" y="643.6" font-size="12" fill="#fff" font-weight="bold" font-style="normal" text-anchor="start" textLength="31.53" lengthAdjust="spacingAndGlyphs" >18.18</text>
<text x="467.72" y="596.9" font-size="12" fill="#fff" font-weight="bold" font-style="normal" text-anchor="start" textLength="31.53" lengthAdjust="spacingAndGlyphs" >16.70</text>
<text x="467.72" y="612.7" font-size="12" fill="#fff" font-weight="bold" font-style="normal" text-anchor="start" textLength="31.53" lengthAdjust="spacingAndGlyphs" >20.43</text>
<text x="469.48" y="628.3" font-size="12" fill="#fff" font-weight="bold" font-style="normal" text-anchor="start" textLength="28.03" lengthAdjust="spacingAndGlyphs" >0141</text>
<text x="467.72" y="643.6" font-size="12" fill="#fff" font-weight="bold" font-style="normal" text-anchor="start" textLength="31.53" lengthAdjust="spacingAndGlyphs" >19.01</text>
<text x="7.9" y="573.6" font-size="12" fill="#fff" font-weight="bold" font-style="normal" text-anchor="start" textLength="25.1" lengthAdjust="spacingAndGlyphs" >UTC</text>
<text x="8.2" y="604.7" font-size="12" fill="#fff" font-weight="bold" font-style="normal" text-anchor="start" textLength="7.52" lengthAdjust="spacingAndGlyphs" >R</text>
<text x="17" y="613.6" font-size="11.5" fill="#fff" font-weight="bold" font-style="normal" text-anchor="start" textLength="27.8" lengthAdjust="spacingAndGlyphs" >satur</text>
<text x="8.2" y="620.4" font-size="12" fill="#fff" font-weight="bold" font-style="normal" text-anchor="start" textLength="17" lengthAdjust="spacingAndGlyphs" >Lat</text>
<text x="8.2" y="635.7" font-size="12" fill="#fff" font-weight="bold" font-style="normal" text-anchor="start" textLength="14.57" lengthAdjust="spacingAndGlyphs" >LT</text>
<text x="8.2" y="651.4" font-size="12" fill="#fff" font-weight="bold" font-style="normal" text-anchor="start" textLength="6.31" lengthAdjust="spacingAndGlyphs" >L</text>
<text x="15" y="659.6" font-size="11.5" fill="#fff" font-weight="bold" font-style="normal" text-anchor="start" textLength="35.31" lengthAdjust="spacingAndGlyphs" >saturn</text>
<text x="319" y="687.6" font-size="10.5" fill="#fff" font-weight="normal" font-style="normal" text-anchor="start" textLength="113.22" lengthAdjust="spacingAndGlyphs"  stroke="#fff" stroke-width="0.3">Background Subtracted</text>
<text x="569" y="687.8" font-size="10.5" fill="#fff" font-weight="normal" font-style="normal" text-anchor="start" textLength="66.61" lengthAdjust="spacingAndGlyphs"  stroke="#fff" stroke-width="0.3">in Stare Mode</text></svg>
</body></html>
